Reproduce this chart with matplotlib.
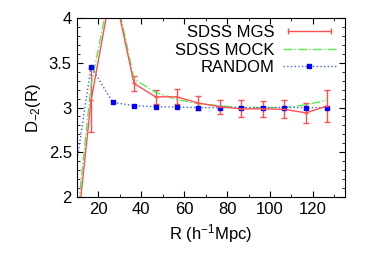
import numpy as np
import matplotlib
matplotlib.use("Agg")
import matplotlib.pyplot as plt
from matplotlib.ticker import MultipleLocator
from matplotlib.lines import Line2D
from matplotlib.legend_handler import HandlerLine2D

plt.rcParams['font.family'] = ['Liberation Sans', 'DejaVu Sans']
plt.rcParams['mathtext.fontset'] = 'custom'
plt.rcParams['mathtext.rm'] = 'Liberation Sans'
plt.rcParams['mathtext.it'] = 'Liberation Sans'

# donnees
r = [6.7, 16.7, 26.7, 36.7, 46.7, 56.7, 66.7, 76.7, 86.7, 96.7, 106.7, 116.7, 126.7]
mgs = [0.8, 3.08, 4.4, 3.27, 3.12, 3.12, 3.05, 3.01, 2.985, 2.985, 2.98, 2.94, 3.02]
mgs_err = [0.0, 0.35, 0.0, 0.08, 0.08, 0.085, 0.08, 0.08, 0.095, 0.09, 0.1, 0.11, 0.18]
mock = [0.95, 3.25, 4.45, 3.32, 3.17, 3.09, 3.045, 3.02, 3.0, 3.0, 3.0, 3.03, 3.085]
rand = [1.85, 3.46, 3.06, 3.02, 3.01, 3.005, 3.0, 3.0, 3.0, 3.0, 3.0, 3.0, 3.0]

c_mgs = '#ff5050'
c_mock = '#55ee55'
c_rand = '#4060ff'

fig = plt.figure(figsize=(3.74, 2.62), dpi=100)
ax = fig.add_axes([0.205, 0.249, 0.718, 0.681])

ax.errorbar(r, mgs, yerr=mgs_err, color=c_mgs, lw=1.0, elinewidth=1.0,
            capsize=2.5, marker='_', ms=3)
ax.plot(r, mock, color=c_mock, lw=1.0, ls='-.')
ax.plot(r, rand, color=c_rand, lw=1.0, ls=':', marker='s', ms=3.5,
        mfc='#0000ff', mec='#0000ff')

ax.set_xlim(10, 135)
ax.set_ylim(2, 4)
ax.xaxis.set_major_locator(MultipleLocator(20))
ax.xaxis.set_minor_locator(MultipleLocator(10))
ax.yaxis.set_major_locator(MultipleLocator(0.5))
ax.yaxis.set_minor_locator(MultipleLocator(0.1))
ax.yaxis.set_major_formatter(plt.FuncFormatter(lambda v, p: f'{v:g}'))
ax.tick_params(which='both', direction='in', top=True, right=True, labelsize=12)
ax.tick_params(which='major', length=4)
ax.tick_params(which='minor', length=2)

ax.set_xlabel('R (h$^{-1}$Mpc)', fontsize=12)
ax.set_ylabel('D$_{-2}$(R)', fontsize=12)

# legende facon gnuplot
h_mgs = Line2D([], [], color=c_mgs, lw=1.0, marker='|', ms=5)
h_mock = Line2D([], [], color=c_mock, lw=1.0, ls='-.')
h_rand = Line2D([], [], color=c_rand, lw=1.0, ls=':', marker='s', ms=3.5,
                mfc='#0000ff', mec='#0000ff')
ax.legend([h_mgs, h_mock, h_rand], ['SDSS MGS', 'SDSS MOCK', 'RANDOM'],
          loc='upper right', bbox_to_anchor=(0.99, 1.0), frameon=False,
          markerfirst=False, fontsize=12, handlelength=3.2, labelspacing=0.15,
          borderaxespad=0.0, handletextpad=0.5,
          handler_map={h_mgs: HandlerLine2D(numpoints=2)})

fig.savefig('out.png', dpi=100)
